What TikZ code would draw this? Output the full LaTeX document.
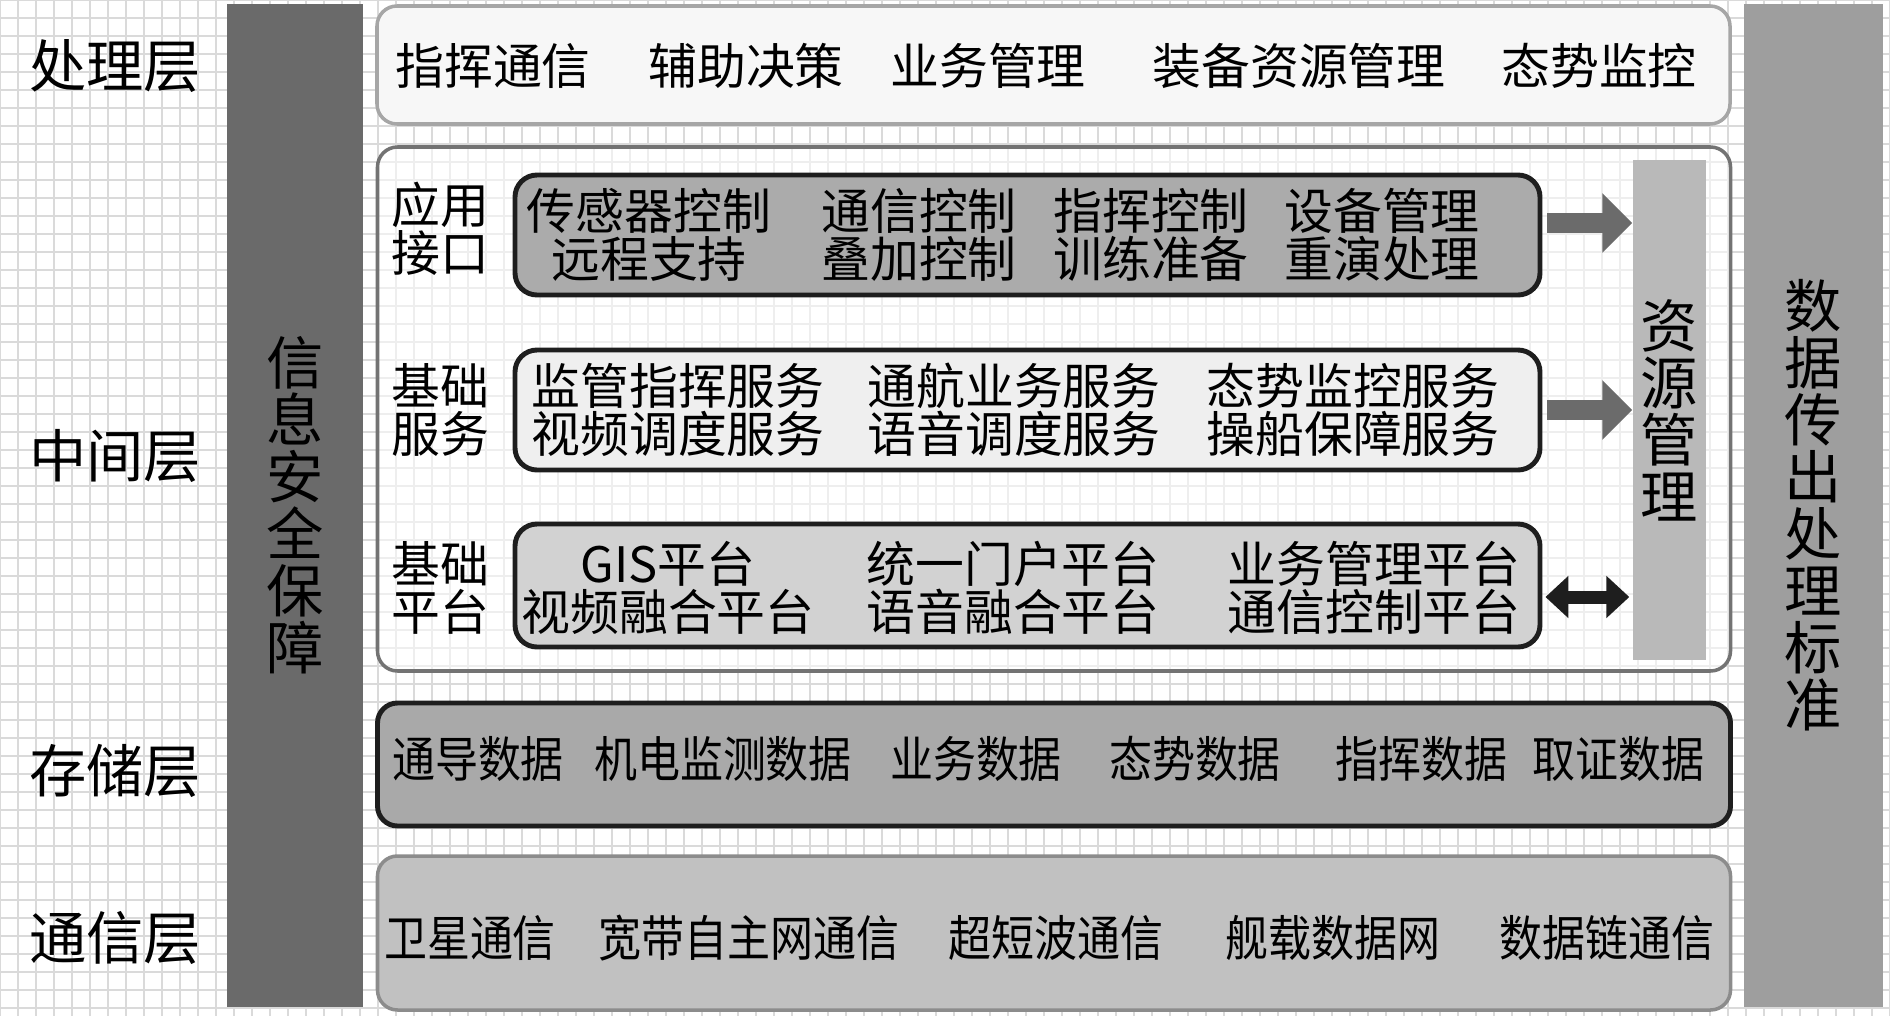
\documentclass[tikz,border=0pt]{standalone}
\usepackage{fontspec}
\setmainfont{Noto Sans CJK SC}
\newfontfamily\narrowcjk[FakeStretch=0.88]{Noto Sans CJK SC}
\usepackage{xcolor}
\usetikzlibrary{positioning, arrows.meta, calc}
\definecolor{ink}{HTML}{1e1e1e}
\definecolor{secbar}{HTML}{6a6a6a}
\definecolor{stdbar}{HTML}{9e9e9e}
\definecolor{resbar}{HTML}{b9b9b9}
\definecolor{gridgray}{HTML}{dadada}
\definecolor{toppane}{HTML}{f7f7f7}
\definecolor{apppane}{HTML}{ababab}
\definecolor{svcpane}{HTML}{efefef}
\definecolor{platpane}{HTML}{d2d2d2}
\definecolor{storepane}{HTML}{a9a9a9}
\definecolor{commpane}{HTML}{c1c1c1}

\newcommand{\bigsize}{\fontsize{16.3pt}{16.2pt}\selectfont}
\newcommand{\boxsize}{\fontsize{13.9pt}{13.7pt}\selectfont}

\begin{document}
\begin{tikzpicture}[
  layerlabel/.style={font=\bigsize, inner sep=0pt},
  item/.style={font=\boxsize, inner sep=0pt, align=center},
  flatitem/.style={font=\narrowcjk\boxsize, inner sep=0pt},
  pane/.style={rectangle, rounded corners=0.2cm, minimum width=13.53cm, line width=1pt},
  subpane/.style={rectangle, draw=ink, line width=1.4pt, rounded corners=0.22cm, minimum width=10.25cm, minimum height=1.2cm},
  bar/.style={rectangle, inner sep=0pt, align=center, font=\bigsize},
  fatarrow/.style={line width=0.2cm, draw=black!58, -{Triangle[length=0.3cm, width=0.58cm]}},
  twoway/.style={line width=0.13cm, draw=ink, {Triangle[length=0.23cm, width=0.41cm]}-{Triangle[length=0.23cm, width=0.41cm]}}
]
  \useasboundingbox (0,0) rectangle (18.9,-10.16);
  \fill[white] (0,0) rectangle (18.9,-10.16);
  \draw[gridgray, line width=0.6pt, step=0.18] (0,-10.16) grid (18.9,0);

  % side bars
  \node[bar, fill=secbar, minimum width=1.36cm, minimum height=10.03cm] (sec) at (2.95,-5.05) {信\\息\\安\\全\\保\\障};
  \node[bar, fill=stdbar, minimum width=1.39cm, minimum height=10.03cm] (std) at (18.135,-5.05) {数\\据\\传\\出\\处\\理\\标\\准};

  % layers
  \node[pane, draw=black!35, fill=toppane, minimum height=1.18cm] (proc) at (10.535,-0.65) {};
  \node[pane, draw=black!55, fill=white, fill opacity=0.55, minimum height=5.24cm] (mid) at (10.54,-4.09) {};
  \node[pane, draw=ink, line width=1.4pt, fill=storepane, minimum height=1.23cm] (store) at (10.54,-7.645) {};
  \node[pane, draw=black!45, fill=commpane, minimum height=1.54cm] (comm) at (10.54,-9.33) {};

  \node[layerlabel] (proclbl) at (1.15,-0.66) {处理层};
  \node[layerlabel] (midlbl) at (1.15,-4.56) {中间层};
  \node[layerlabel] (storelbl) at (1.15,-7.71) {存储层};
  \node[layerlabel] (commlbl) at (1.15,-9.38) {通信层};

  % middle layer
  \node[subpane, fill=apppane] (app) at (10.275,-2.35) {};
  \node[subpane, fill=svcpane] (svc) at (10.275,-4.10) {};
  \node[subpane, fill=platpane, minimum height=1.23cm] (plat) at (10.275,-5.855) {};
  \node[bar, fill=resbar, minimum width=0.73cm, minimum height=5.0cm] (res) at (16.695,-4.10) {资\\源\\管\\理};

  \node[item] (applbl) at (4.40,-2.29) {应用\\接口};
  \node[item] (svclbl) at (4.40,-4.10) {基础\\服务};
  \node[item] (platlbl) at (4.40,-5.88) {基础\\平台};

  \foreach \x/\t [count=\i] in {4.93/指挥通信, 7.46/辅助决策, 9.88/业务管理, 12.99/装备资源管理, 15.99/态势监控}
    \node[item] (proc\i) at (\x,-0.66) {\t};
  \foreach \x/\t [count=\i] in {6.49/{传感器控制\\远程支持}, 9.19/{通信控制\\叠加控制}, 11.51/{指挥控制\\训练准备}, 13.82/{设备管理\\重演处理}}
    \node[item] (app\i) at (\x,-2.35) {\t};
  \foreach \x/\t [count=\i] in {6.78/{监管指挥服务\\视频调度服务}, 10.14/{通航业务服务\\语音调度服务}, 13.53/{态势监控服务\\操船保障服务}}
    \node[item] (svc\i) at (\x,-4.10) {\t};
  \foreach \x/\t [count=\i] in {6.68/{GIS平台\\视频融合平台}, 10.13/{统一门户平台\\语音融合平台}, 13.74/{业务管理平台\\通信控制平台}}
    \node[item] (plat\i) at (\x,-5.88) {\t};
  \foreach \x/\t [count=\i] in {4.78/通导数据, 7.23/机电监测数据, 9.76/业务数据, 11.95/态势数据, 14.21/指挥数据, 16.18/取证数据}
    \node[flatitem] (store\i) at (\x,-7.59) {\t};
  \foreach \x/\t [count=\i] in {4.70/卫星通信, 7.49/宽带自主网通信, 10.56/超短波通信, 13.33/舰载数据网, 16.07/数据链通信}
    \node[flatitem] (comm\i) at (\x,-9.38) {\t};

  \draw[fatarrow] ($(app.east)+(0.05,0.12)$) -- ($(app.east -| res.west)+(0,0.12)$);
  \draw[fatarrow] ($(svc.east)+(0.05,0)$) -- (svc.east -| res.west);
  \draw[twoway] ($(plat.east)+(0.03,-0.115)$) -- ($(plat.east -| res.west)+(-0.03,-0.115)$);
\end{tikzpicture}
\end{document}
